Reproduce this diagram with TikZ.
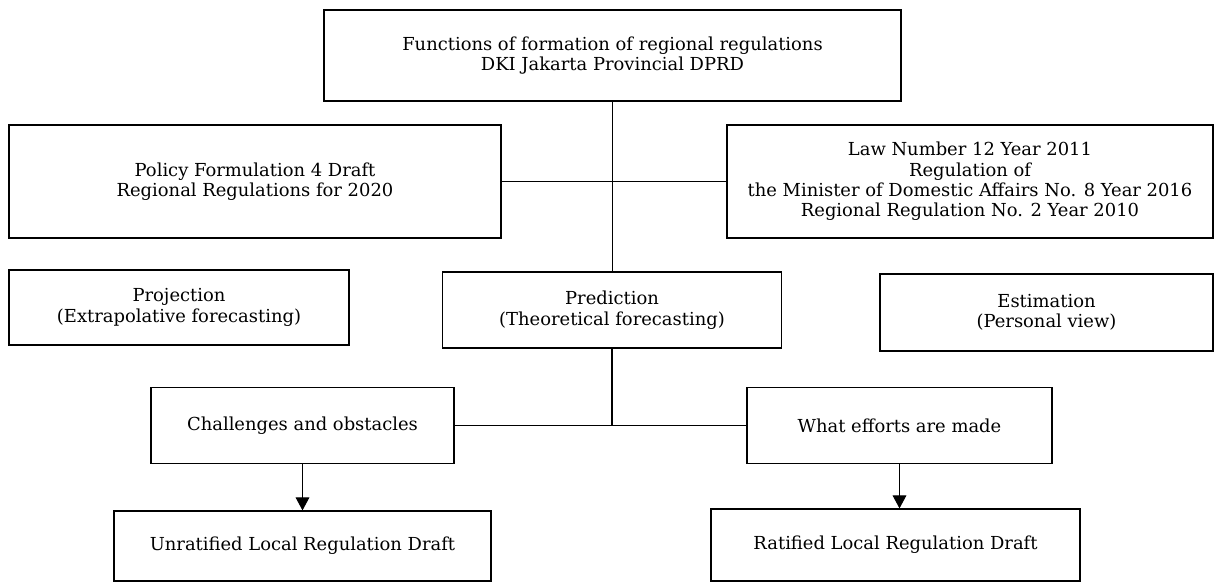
\documentclass[tikz,border=0pt]{standalone}
\usepackage{fontspec}
\setmainfont{DejaVu Serif}
\usetikzlibrary{positioning, arrows.meta}

\begin{document}
\begin{tikzpicture}[x=0.02cm, y=-0.02cm,
    box/.style={draw, rectangle, line width=0.7pt, align=center, inner sep=0pt,
        font=\fontsize{10.2}{11.6}\selectfont},
    link/.style={line width=0.6pt}]

            \useasboundingbox (0,0) rectangle (1215,583);

            \node[box, minimum width=577*0.02cm, minimum height=91*0.02cm] (functions) at (612.5,55.5)
            {Functions of formation of regional regulations\\DKI Jakarta Provincial DPRD};

            \node[box, minimum width=492*0.02cm, minimum height=113*0.02cm] (policy) at (255,181.5)
            {Policy Formulation 4 Draft\\Regional Regulations for 2020};

            \node[box, minimum width=486*0.02cm, minimum height=113*0.02cm] (law) at (970,181.5)
            {Law Number 12 Year 2011\\Regulation of\\the Minister of Domestic Affairs No. 8 Year 2016\\Regional Regulation No. 2 Year 2010};

            \node[box, minimum width=340*0.02cm, minimum height=75*0.02cm] (projection) at (179,307.5)
            {Projection\\(Extrapolative forecasting)};

            \node[box, minimum width=339*0.02cm, minimum height=76*0.02cm] (prediction) at (612,310)
            {Prediction\\(Theoretical forecasting)};

            \node[box, minimum width=333*0.02cm, minimum height=77*0.02cm] (estimation) at (1046.5,312.5)
            {Estimation\\(Personal view)};

            \node[box, minimum width=303*0.02cm, minimum height=76*0.02cm] (challenges) at (302.5,425.5)
            {Challenges and obstacles};

            \node[box, minimum width=305*0.02cm, minimum height=76*0.02cm] (efforts) at (899.5,425.5)
            {What efforts are made};

            \node[box, minimum width=377*0.02cm, minimum height=70*0.02cm] (unratified) at (302.5,546)
            {Unratified Local Regulation Draft};

            \node[box, minimum width=369*0.02cm, minimum height=72*0.02cm] (ratified) at (895.5,545)
            {Ratified Local Regulation Draft};

            \draw[link] (functions.south) -- (functions.south |- prediction.north);
            \draw[link] (policy) -- (law);
            \draw[link] (prediction.south) -- (prediction.south |- challenges.east);
            \draw[link] (challenges) -- (efforts);
            \draw[link, -{Triangle[length=7.4pt, width=7.8pt]}] (challenges) -- (unratified);
            \draw[link, -{Triangle[length=7.4pt, width=7.8pt]}] (efforts.south) -- (efforts.south |- ratified.north);

        \end{tikzpicture}
\end{document}
